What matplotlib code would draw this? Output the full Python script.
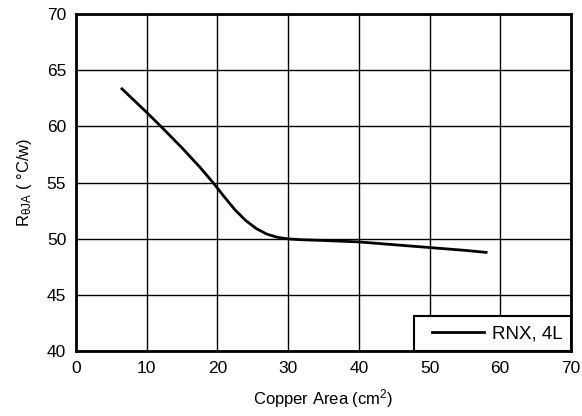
import matplotlib.pyplot as plt
from matplotlib.legend_handler import HandlerLine2D
import numpy as np

plt.rcParams['font.family'] = ['Liberation Sans', 'DejaVu Sans']
plt.rcParams['mathtext.default'] = 'regular'

# curve
area = [6.5, 10, 12, 15, 17.5, 19.5, 21, 22.5, 24, 25.5, 27, 28.5, 30, 32, 35, 40, 45, 50, 55, 58]
rtheta = [63.35, 61.25, 60.01, 58.09, 56.39, 54.91, 53.71, 52.57, 51.63, 50.91, 50.41, 50.13,
          49.99, 49.91, 49.85, 49.72, 49.47, 49.22, 48.97, 48.79]

fig = plt.figure(figsize=(5.82, 4.16), dpi=100)
ax = fig.add_axes([0.1306, 0.156, 0.8504, 0.81])

line, = ax.plot(area, rtheta, color='black', lw=2, label='RNX, 4L', solid_joinstyle='round')

ax.set_xlim(0, 70)
ax.set_ylim(40, 70)
ax.set_xticks(np.arange(0, 71, 10))
ax.set_yticks(np.arange(40, 71, 5))
ax.grid(True, color='black', lw=1)
ax.tick_params(length=0, labelsize=12.5, pad=7)
for s in ax.spines.values():
    s.set_linewidth(2)

ax.set_xlabel('Copper Area (cm$^{2}$)', fontsize=12, labelpad=8)
ax.set_ylabel('R$_{θJA}$ ( °C/w)', fontsize=12, labelpad=9)

# legend: line inset from the box edge like the original
leg = ax.legend(loc='lower right', borderaxespad=0, fancybox=False,
                edgecolor='black', framealpha=1, fontsize=13.5,
                handlelength=3.79, borderpad=0.47, handletextpad=-0.11,
                handler_map={line: HandlerLine2D(marker_pad=0.53, numpoints=2)})
leg.get_frame().set_linewidth(1.5)

plt.savefig('out.png', dpi=100)
